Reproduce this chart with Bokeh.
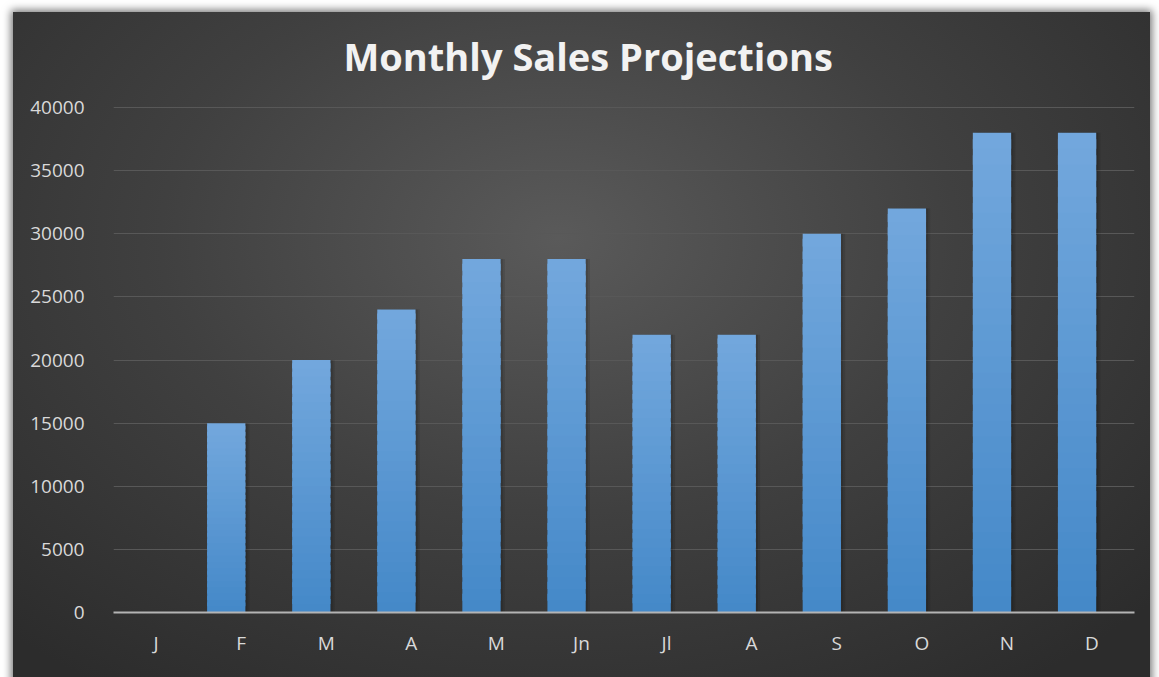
from bokeh.plotting import figure
from bokeh.models import FixedTicker, InlineStyleSheet
from bokeh.embed import file_html
from bokeh.resources import INLINE

# ---- data ----
months = ["J", "F", "M", "A", "M", "Jn", "Jl", "A", "S", "O", "N", "D"]
sales = [0, 15000, 20000, 24000, 28000, 28000, 22000, 22000, 30000, 32000, 38000, 38000]
y_ticks = [0, 5000, 10000, 15000, 20000, 25000, 30000, 35000, 40000]
title_text = "Monthly Sales Projections"

W, H = 1159, 677
xs = list(range(len(months)))

p = figure(width=W, height=H, x_range=(-0.5, len(months) - 0.5), y_range=(0, 40080),
           output_backend="svg", toolbar_location=None, title=title_text,
           min_border_left=113, min_border_right=25, min_border_top=106, min_border_bottom=65)

css = """
:host { background: #ffffff; }
:host::before {
  content: ""; position: absolute; left: 13px; top: 12px; right: 9px; bottom: -20px;
  background: radial-gradient(ellipse 70% 80% at 48% 33%, #5a5a5a 0%, #404040 50%, #2c2c2c 100%);
  box-shadow: 0 0 8px 2px rgba(0,0,0,0.55);
}
"""
p.stylesheets = [InlineStyleSheet(css=css)]
p.background_fill_alpha = 0
p.border_fill_alpha = 0
p.outline_line_color = None

# title
p.title.text_font = "Open Sans"
p.title.text_font_style = "bold"
p.title.text_font_size = "38px"
p.title.text_color = "#f2f2f2"
p.title.align = "left"
p.title.offset = 230
p.title.standoff = 48
p.title.vertical_align = "middle"

# grid
p.xgrid.grid_line_color = None
p.ygrid.grid_line_color = "#585858"
p.ygrid.grid_line_width = 1.2
p.ygrid.ticker = FixedTicker(ticks=y_ticks)

# axes
p.yaxis.ticker = FixedTicker(ticks=y_ticks)
p.yaxis.axis_line_color = None
p.yaxis.major_tick_line_color = None
p.yaxis.minor_tick_line_color = None
p.yaxis.major_label_text_color = "#d9d9d9"
p.yaxis.major_label_text_font = "Open Sans"
p.yaxis.major_label_text_font_size = "19px"
p.yaxis.major_label_standoff = 23

p.xaxis.ticker = FixedTicker(ticks=xs)
p.xaxis.major_label_overrides = {i: m for i, m in enumerate(months)}
p.xaxis.axis_line_color = "#b4b4b4"
p.xaxis.axis_line_width = 2
p.xaxis.major_tick_line_color = None
p.xaxis.minor_tick_line_color = None
p.xaxis.major_label_text_color = "#d9d9d9"
p.xaxis.major_label_text_font = "Open Sans"
p.xaxis.major_label_text_font_size = "19px"
p.xaxis.major_label_standoff = 11

# bars (offset left within category, like a 2-series cluster)
off = -0.175
bw = 0.45
bx = [x + off for x in xs]

# soft shadow to the right
p.vbar(x=[x + 0.05 for x in bx], top=sales, width=bw, fill_color="black", fill_alpha=0.10, line_color=None)
p.vbar(x=[x + 0.025 for x in bx], top=sales, width=bw, fill_color="black", fill_alpha=0.12, line_color=None)

# vertical gradient via stacked, slightly overlapping bands
N = 30
c0 = (0x44, 0x88, 0xc8)
c1 = (0x73, 0xa8, 0xdd)
for k in range(N):
    t = (k + 0.5) / N
    col = "#%02x%02x%02x" % tuple(int(round(a + (b - a) * t)) for a, b in zip(c0, c1))
    bot = [v * k / N for v in sales]
    top = [v * min(k + 1.6, N) / N for v in sales]
    p.vbar(x=bx, bottom=bot, top=top, width=bw, fill_color=col, line_color=None)

open("out.html", "w").write(file_html(p, INLINE))
